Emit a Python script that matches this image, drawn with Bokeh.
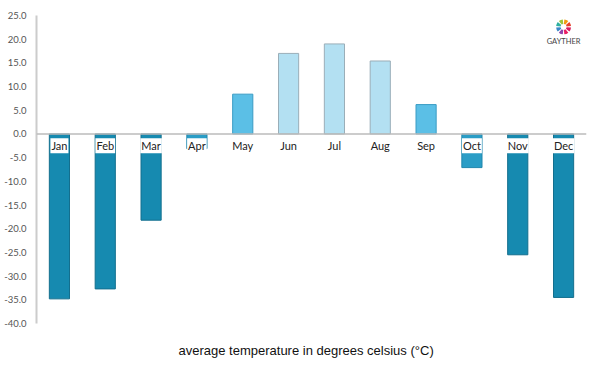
from bokeh.plotting import figure
from bokeh.models import ColumnDataSource, Span, NumeralTickFormatter, FixedTicker, Title, Range1d, FactorRange
from bokeh.core.properties import value
from bokeh.embed import file_html
from bokeh.resources import INLINE
import math

months = ["Jan", "Feb", "Mar", "Apr", "May", "Jun", "Jul", "Aug", "Sep", "Oct", "Nov", "Dec"]
temps = [-34.8, -32.7, -18.2, -3.1, 8.4, 17.0, 19.0, 15.4, 6.2, -7.1, -25.5, -34.5]
fills = ["#168ab0", "#168ab0", "#168ab0", "#2a9dc6", "#5bbfe6", "#b3e0f2", "#b3e0f2", "#b3e0f2",
         "#5bbfe6", "#2a9dc6", "#168ab0", "#168ab0"]
lines = ["#136f8e", "#136f8e", "#136f8e", "#1f86ad", "#3a9cc4", "#9aaeb8", "#9aaeb8", "#9aaeb8",
         "#3a9cc4", "#1f86ad", "#136f8e", "#136f8e"]
y_ticks = [25, 20, 15, 10, 5, 0, -5, -10, -15, -20, -25, -30, -35, -40]

src = ColumnDataSource(dict(x=months, top=temps, fill=fills, line=lines,
                            ly=[-2.5] * 12))

p = figure(width=600, height=375, x_range=FactorRange(*months, range_padding=0),
           y_range=Range1d(-40, 25), output_backend="svg", toolbar_location=None,
           min_border_left=36, min_border_right=14, min_border_top=15, min_border_bottom=51)
p.outline_line_color = None
p.xgrid.visible = False
p.ygrid.visible = False
p.xaxis.visible = False

p.vbar(x="x", top="top", bottom=0, width=0.44, fill_color="fill", line_color="line",
       line_width=1, source=src)

p.add_layout(Span(location=0, dimension="width", line_color="#bbbbbb", line_width=1.5))

p.text(x="x", y="ly", text="x", source=src, text_align="center", text_baseline="middle",
       text_font=value("Lato"), text_font_size="11px", text_color="#222222",
       background_fill_color="white", padding=1)

ax = p.yaxis[0]
ax.ticker = FixedTicker(ticks=y_ticks)
ax.formatter = NumeralTickFormatter(format="0.0")
ax.axis_line_color = "#cccccc"
ax.axis_line_width = 2
ax.major_tick_line_color = None
ax.minor_tick_line_color = None
ax.major_label_text_color = "#555555"
ax.major_label_text_font = "Lato"
ax.major_label_text_font_size = "9.5px"
ax.major_label_standoff = 4

# logo
logo_cols = ["#e8412c", "#f39c12", "#9bc53d", "#2eb0a0", "#3a86c8", "#8e44ad", "#e91e63", "#d81b60"]
for i, c in enumerate(logo_cols):
    a0 = i * 2 * math.pi / 8
    p.annular_wedge(x=[("Dec", 0.0)], y=[22.6], inner_radius=3, outer_radius=7.5,
                    inner_radius_units="screen", outer_radius_units="screen",
                    start_angle=a0 + 0.1, end_angle=a0 + 2 * math.pi / 8 - 0.1,
                    fill_color=c, line_color=None)
p.text(x=[("Dec", 0.0)], y=[19.6], text=["GAYTHER"], text_align="center", text_baseline="middle",
       text_font=value("Lato"), text_font_size="7.5px", text_color="#444444")

p.add_layout(Title(text="average temperature in degrees celsius (\u00b0C)", align="left",
                   text_font="Liberation Sans", text_font_size="13px", text_font_style="normal",
                   text_color="#111111", standoff=35, offset=142), "below")

open("out.html", "w").write(file_html(p, INLINE))
